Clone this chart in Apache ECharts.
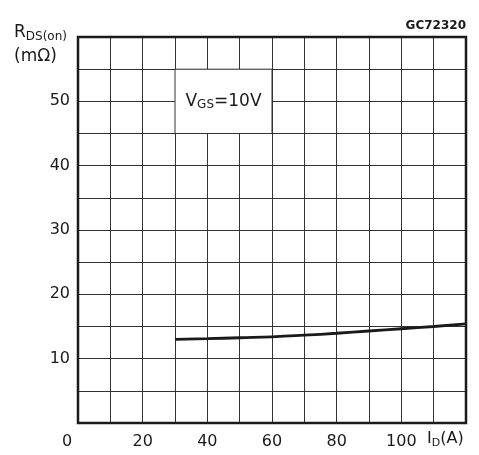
<!DOCTYPE html>
<html>
<head>
<meta charset="utf-8">
<script src="https://cdn.jsdelivr.net/npm/echarts@6/dist/echarts.min.js"></script>
<style>
  html, body { margin: 0; padding: 0; background: #fff; }
  #chart { width: 479px; height: 455px; }
</style>
</head>
<body>
<div id="chart"></div>
<script>
// Drain current I_D (A) and on-resistance R_DS(on) (mΩ) at V_GS = 10 V
const currentA = [30, 40, 50, 60, 70, 80, 90, 100, 110, 120];
const resistanceMilliOhm = [13.0, 13.1, 13.25, 13.4, 13.65, 13.95, 14.3, 14.65, 15.0, 15.4];
const xTickLabels = [0, 20, 40, 60, 80, 100];
const yTickLabels = [10, 20, 30, 40, 50];

const FONT = 'DejaVu Sans';
const INK = '#1a1a1a';

const chart = echarts.init(document.getElementById('chart'), null, { renderer: 'canvas' });

const option = {
  animation: false,
  backgroundColor: '#fff',
  grid: {
    left: 78, right: 13, top: 37, bottom: 32,
    show: true, borderColor: INK, borderWidth: 2.5, z: 5
  },
  xAxis: {
    type: 'value', min: 0, max: 120, interval: 10,
    axisLine: { show: false },
    axisTick: { show: false },
    splitLine: { show: true, lineStyle: { color: '#333', width: 1 } },
    axisLabel: {
      margin: 11,
      fontFamily: FONT, fontSize: 16, color: INK,
      formatter: function (v) {
        if (xTickLabels.indexOf(v) < 0) return '';
        return v === 0 ? '{o|0}' : String(v);
      },
      rich: { o: { fontFamily: FONT, fontSize: 16, color: INK, padding: [0, 22, 0, 0] } }
    }
  },
  yAxis: {
    type: 'value', min: 0, max: 60, interval: 5,
    axisLine: { show: false },
    axisTick: { show: false },
    splitLine: { show: true, lineStyle: { color: '#333', width: 1 } },
    axisLabel: {
      margin: 8,
      fontFamily: FONT, fontSize: 16, color: INK,
      formatter: function (v) { return yTickLabels.indexOf(v) >= 0 ? String(v) : ''; }
    }
  },
  series: [{
    type: 'line',
    data: currentA.map((x, i) => [x, resistanceMilliOhm[i]]),
    smooth: true,
    symbol: 'none',
    lineStyle: { color: INK, width: 2.8 },
    markArea: {
      silent: true,
      itemStyle: { color: '#fff', borderColor: '#333', borderWidth: 1 },
      label: {
        show: true, position: 'inside',
        formatter: '{v|V}{s|GS}{v|=10V}',
        rich: {
          v: { fontFamily: FONT, fontSize: 17, color: INK },
          s: { fontFamily: FONT, fontSize: 12, color: INK, padding: [8, 0, 0, 0] }
        }
      },
      data: [[{ coord: [30, 45] }, { coord: [60, 55] }]]
    }
  }],
  graphic: [
    {
      type: 'text', left: 14, top: 24,
      style: {
        text: '{r|R}{s|DS(on)}\n{r|(mΩ)}',
        rich: {
          r: { fontFamily: FONT, fontSize: 17, fill: INK, lineHeight: 24 },
          s: { fontFamily: FONT, fontSize: 12, fill: INK, padding: [8, 0, 0, 0] }
        }
      }
    },
    {
      type: 'text', right: 13, top: 20,
      style: { text: 'GC72320', fontFamily: FONT, fontSize: 12, fontWeight: 'bold', fill: INK }
    },
    {
      type: 'text', left: 427, top: 431,
      style: {
        text: '{r|I}{s|D}{r|(A)}',
        rich: {
          r: { fontFamily: FONT, fontSize: 16, fill: INK },
          s: { fontFamily: FONT, fontSize: 11, fill: INK, padding: [8, 0, 0, 0] }
        }
      }
    }
  ]
};

chart.setOption(option);
</script>
</body>
</html>
